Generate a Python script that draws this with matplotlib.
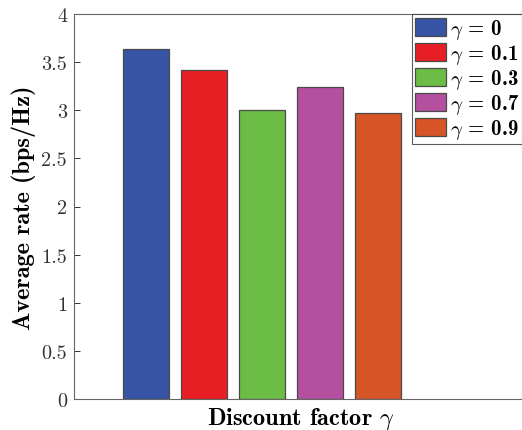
import numpy as np
import matplotlib
matplotlib.use("Agg")
import matplotlib.pyplot as plt

# data
gammas = ["0", "0.1", "0.3", "0.7", "0.9"]
rates = [3.64, 3.42, 3.00, 3.24, 2.97]
colors = ["#3653A4", "#E81E25", "#6BBD45", "#B54F9F", "#D75426"]
yticks = [0, 0.5, 1, 1.5, 2, 2.5, 3, 3.5, 4]

plt.rcParams["mathtext.fontset"] = "cm"
plt.rcParams["font.family"] = "cmr10"
plt.rcParams["axes.unicode_minus"] = False

fig = plt.figure(figsize=(5.22, 4.31), dpi=100)
ax = fig.add_axes([0.1418, 0.0719, 0.92, 0.8933])

pos = np.arange(1, len(rates) + 1)
for p, r, c, g in zip(pos, rates, colors, gammas):
    ax.bar(p, r, width=0.81, color=c, edgecolor="#4a4a4a", linewidth=0.9,
           label=r"$\gamma$ = " + g)

# axes spans 74px .. beyond the right edge, 58px per bar slot
ax.set_xlim(-0.241, -0.241 + 0.92 * 522 / 58)
ax.set_ylim(0, 4)
ax.set_yticks(yticks)
ax.set_yticklabels([f"{t:g}" for t in yticks])
ax.set_xticks([])
ax.tick_params(axis="y", direction="in", length=4, width=0.7, labelsize=14.5,
               colors="#333333", pad=5)
for s in ax.spines.values():
    s.set_color("#666666")
    s.set_linewidth(0.8)

ax.set_ylabel("Average rate (bps/Hz)", fontfamily="cmb10", fontsize=17.5, labelpad=4)
ax.set_xlabel(r"Discount factor $\gamma$", fontfamily="cmb10", fontsize=17.5)
ax.xaxis.set_label_coords((301 - 74) / (0.92 * 522), -0.015)
ax.xaxis.label.set_va("top")

leg = ax.legend(loc="upper left", bbox_to_anchor=(412 / 522, 1 - 15 / 431),
                bbox_transform=fig.transFigure, prop={"family": "cmb10", "size": 15},
                frameon=True, fancybox=False, edgecolor="#333333",
                handlelength=1.5, handleheight=0.9, handletextpad=0.15,
                labelspacing=0.05, borderpad=0.15, borderaxespad=0)
leg.get_frame().set_linewidth(0.8)

fig.savefig("out.png", dpi=100)
